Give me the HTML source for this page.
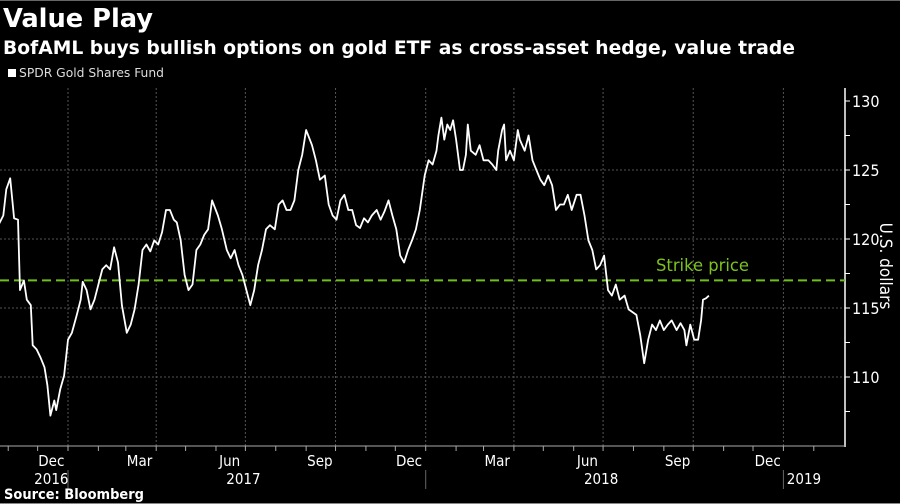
<!DOCTYPE html>
<html><head><meta charset="utf-8"><style>
body{margin:0;background:#000;}
svg{display:block;font-family:"DejaVu Sans Condensed","Liberation Sans",sans-serif;}
</style></head><body>
<svg id="chart" width="900" height="504" viewBox="0 0 900 504">
<rect width="900" height="504" fill="#000"/>
<line x1="0" y1="0.5" x2="900" y2="0.5" stroke="#666"/>
<line x1="0" y1="503.5" x2="900" y2="503.5" stroke="#888"/>
<text x="3" y="27" fill="#fff" font-size="26" font-weight="bold" textLength="150" lengthAdjust="spacingAndGlyphs">Value Play</text>
<text x="3" y="54" fill="#fff" font-size="19" font-weight="bold" textLength="792" lengthAdjust="spacingAndGlyphs">BofAML buys bullish options on gold ETF as cross-asset hedge, value trade</text>
<rect x="8" y="69" width="8" height="8" fill="#fff"/>
<text x="19" y="77" fill="#ddd" font-size="12" textLength="145" lengthAdjust="spacingAndGlyphs">SPDR Gold Shares Fund</text>
<g id="grid"></g><g id="axes"></g><g id="series"></g>
<text x="656" y="271" fill="#7dc21e" font-size="17" textLength="93" lengthAdjust="spacingAndGlyphs">Strike price</text>
<text transform="translate(880,266) rotate(90)" text-anchor="middle" fill="#fff" font-size="17">U.S. dollars</text>
<text x="4" y="499" fill="#fff" font-size="14" font-weight="bold" textLength="140" lengthAdjust="spacingAndGlyphs">Source: Bloomberg</text>
</svg>
<script>
// days since 2016-10-22
const days=[0,5,8,12,16,20,22,26,29,33,35,39,43,47,50,53,57,59,63,67,71,75,80,84,86,90,94,98,102,106,110,114,118,122,126,131,135,139,143,147,151,155,159,163,167,171,175,179,182,186,190,194,198,202,206,210,214,218,224,228,233,237,241,245,249,253,257,261,265,269,273,277,282,286,290,294,298,302,306,310,314,320,324,328,333,337,341,345,349,353,357,361,365,369,373,377,381,386,390,394,398,402,406,410,414,418,422,426,430,435,439,443,447,449,452,455,458,461,464,467,471,474,477,479,482,487,491,495,500,504,508,510,514,516,518,522,526,530,532,537,541,545,549,553,557,561,565,569,573,577,581,585,590,594,598,602,606,610,614,618,622,626,630,634,639,643,647,651,655,659,663,667,671,675,679,683,687,692,696,700,702,706,710,714,717,719,722,725];
const prices=[121.0,121.7,123.6,124.4,121.5,121.4,116.3,117.0,115.6,115.2,112.3,112.0,111.4,110.7,109.4,107.2,108.3,107.6,109.1,110.1,112.7,113.2,114.5,115.6,116.9,116.3,114.9,115.6,116.7,117.8,118.1,117.8,119.4,118.3,115.2,113.2,113.8,114.9,116.7,119.2,119.6,119.1,119.9,119.6,120.5,122.1,122.1,121.4,121.2,119.9,117.4,116.3,116.7,119.2,119.6,120.3,120.7,122.8,121.7,120.7,119.2,118.6,119.2,118.1,117.4,116.3,115.2,116.3,118.1,119.2,120.7,121.0,120.7,122.5,122.8,122.1,122.1,122.8,125.0,126.1,127.9,126.8,125.7,124.3,124.6,122.5,121.7,121.4,122.8,123.2,122.1,122.1,121.0,120.8,121.5,121.2,121.7,122.1,121.4,122.0,122.8,121.7,120.7,118.8,118.3,119.2,119.9,120.7,122.1,124.6,125.7,125.4,126.4,127.5,128.8,127.2,128.3,127.9,128.6,127.2,125.0,125.0,126.1,128.3,126.4,126.1,126.8,125.7,125.7,125.4,125.0,126.4,127.9,128.3,125.7,126.4,125.7,127.9,127.2,126.4,127.5,125.7,125.0,124.3,123.9,124.6,123.9,122.1,122.5,122.5,123.2,122.1,123.2,123.2,121.7,119.9,119.2,117.8,118.1,118.8,116.3,115.9,116.7,115.6,115.9,114.9,114.7,114.5,113.0,111.0,112.7,113.8,113.4,114.1,113.4,113.8,114.1,113.4,113.9,113.4,112.3,113.8,112.7,112.7,114.1,115.6,115.7,115.9];
const yTicks=[110,115,120,125,130];
const monthLabels=["Dec","Mar","Jun","Sep","Dec","Mar","Jun","Sep","Dec"];
const monthLabelDays=[54,144,236,328,419,509,601,693,785];
const yearLabels=["2016","2017","2018","2019"];
const yearLabelDays=[54,250,615,822];
const yearBoundaryDays=[71,436,801];
const gridDays=[71,161,252,344,436,526,617,709,801];
const monthTickDays=[10,40,71,102,130,161,191,222,252,283,314,344,375,405,436,467,495,526,556,587,617,648,679,709,740,770,801,832];
const strike=117;

const NS="http://www.w3.org/2000/svg";
const X=d=>68+(d-71)*0.98;
const Y=v=>101+(130-v)*13.8;
const PL=0,PR=845,PT=88,PB=446;
function mk(tag,attrs,parent){const e=document.createElementNS(NS,tag);for(const k in attrs)e.setAttribute(k,attrs[k]);parent.appendChild(e);return e;}
const grid=document.getElementById('grid'),axes=document.getElementById('axes'),ser=document.getElementById('series');
yTicks.forEach(v=>{
  if(v<130){const l=mk('line',{x1:PL,x2:PR,y1:Y(v),y2:Y(v),stroke:'#555','stroke-dasharray':'2,2'},grid);
  
  }
  const t=mk('text',{x:852,y:Y(v)+6,fill:'#fff','font-size':16},axes);t.textContent=v;
  
  
});
for(let v=107.5;v<=130;v+=2.5){const l=mk('line',{x1:PR,x2:PR+5,y1:Y(v),y2:Y(v),stroke:'#fff'},axes);
  
  }
gridDays.forEach(d=>{const l=mk('line',{x1:X(d),x2:X(d),y1:PT,y2:PB,stroke:'#555','stroke-dasharray':'2,2'},grid);
  
  });
const ya=mk('line',{x1:PR,x2:PR,y1:PT,y2:PB+1,stroke:'#fff','stroke-width':1.5},axes);


const xa=mk('line',{x1:0,x2:PR,y1:PB,y2:PB,stroke:'#aaa'},axes);


monthTickDays.forEach(d=>{const l=mk('line',{x1:X(d),x2:X(d),y1:PB,y2:PB+5,stroke:'#aaa'},axes);
  
  });
monthLabels.forEach((m,i)=>{const t=mk('text',{x:X(monthLabelDays[i]),y:466,fill:'#fff','font-size':15,'text-anchor':'middle'},axes);t.textContent=m;
  
  });
yearLabels.forEach((m,i)=>{const t=mk('text',{x:X(yearLabelDays[i]),y:484,fill:'#fff','font-size':15,'text-anchor':'middle'},axes);t.textContent=m;
  
  });
yearBoundaryDays.forEach(d=>{const l=mk('line',{x1:X(d),x2:X(d),y1:470,y2:489,stroke:'#666'},axes);
  
  });
const sl=mk('line',{x1:0,x2:PR,y1:Y(strike),y2:Y(strike),stroke:'#6fbf1a','stroke-width':2,'stroke-dasharray':'9,5'},ser);


const p=mk('path',{d:days.map((d,i)=>(i?'L':'M')+X(d).toFixed(1)+','+Y(prices[i]).toFixed(1)).join(''),fill:'none',stroke:'#fff','stroke-width':1.8,'stroke-linejoin':'round'},ser);


</script>
</body></html>
